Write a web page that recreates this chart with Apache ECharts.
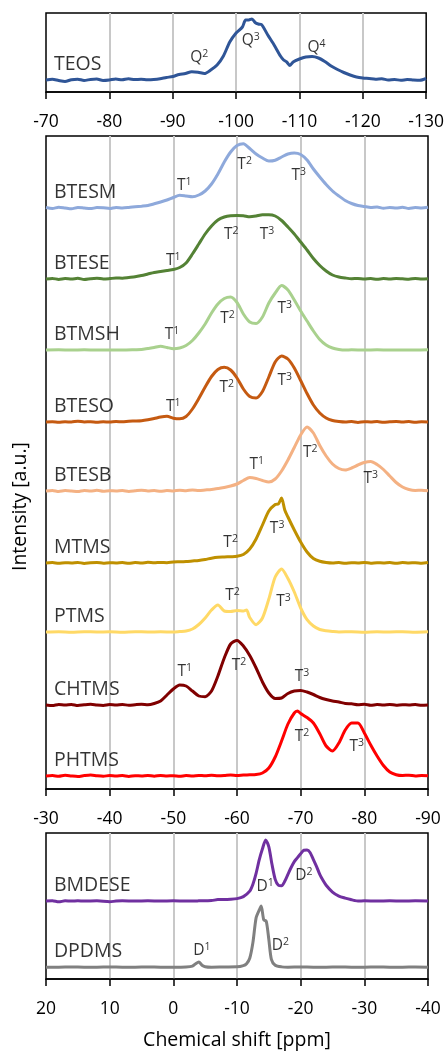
<!DOCTYPE html>
<html><head><meta charset="utf-8">
<script src="https://cdn.jsdelivr.net/npm/echarts@6/dist/echarts.min.js"></script>
<style>html,body{margin:0;padding:0;background:#fff}#c{width:447px;height:1051px}</style>
</head><body><div id="c"></div>
<script>
// ---- DATA: [chemical shift ppm, relative intensity] ----
const teos = [[-70,0],[-71,0.8],[-72,-0.5],[-73,-1.5],[-74,0.3],[-75,0.8],[-76,-0.4],[-77,0.5],[-78,1],[-79,-0.5],[-80,0],[-81,1],[-82,0.2],[-83,1.2],[-84,0.4],[-85,0.8],[-86,0.3],[-87,0.5],[-88,1.2],[-89,2.5],[-90,3.5],[-91,5.5],[-92,6.5],[-93,8.3],[-94,7.8],[-95,6.5],[-96,10],[-97,15],[-98,24],[-99,38],[-100,47],[-101,53],[-101.5,60],[-102,60],[-102.5,61],[-103,57.5],[-103.5,56],[-104,55.5],[-105,45],[-106,35],[-107,24],[-107.5,20],[-108,18],[-108.5,14.5],[-109,18],[-110,21],[-111,23],[-112,23.5],[-113,22],[-114,18.5],[-115,14],[-116,10.5],[-117,7.5],[-118,5],[-119,3],[-120,2],[-121,1.5],[-122,0.8],[-123,1.2],[-124,0],[-125,0.6],[-126,-0.3],[-127,0.5],[-128,0],[-129,-0.3],[-130,1.5]];
const btesm = [[-30,0.5],[-31,-0.5],[-32,0.8],[-33,0],[-34,-0.8],[-35,0.6],[-36,0],[-37,-0.6],[-38,0.4],[-39,0.2],[-40,-0.5],[-41,0.6],[-42,0],[-43,0.5],[-44,1.2],[-45,1.8],[-46,2.5],[-47,4.2],[-48,6],[-49,8],[-50,10.5],[-51,12.7],[-52,12],[-53,11.2],[-54,13],[-55,17],[-56,24],[-57,34],[-58,46],[-59,56],[-60,62.5],[-61,64.3],[-62,59.5],[-63,54],[-64,50],[-65,47],[-66,47.8],[-67,51],[-68,54],[-69,55],[-70,53.5],[-71,48],[-72,39],[-73,31],[-74,23.5],[-75,17],[-76,12],[-77,7.5],[-78,4.5],[-79,2.5],[-80,1.5],[-81,0.5],[-82,1],[-83,-0.3],[-84,0.6],[-85,0],[-86,0.7],[-87,-0.4],[-88,0.5],[-89,0],[-90,0.8]];
const btese = [[-30,0],[-31,0.6],[-32,-0.4],[-33,0.5],[-34,0],[-35,0.7],[-36,-0.5],[-37,0.3],[-38,0.8],[-39,0],[-40,0.4],[-41,1],[-42,0.8],[-43,1.5],[-44,2.2],[-45,3.5],[-46,5],[-47,6.5],[-48,7.5],[-49,8.5],[-50,9.5],[-51,11.5],[-52,16],[-53,25],[-54,35],[-55,45],[-56,53],[-57,59],[-58,62],[-59,63.3],[-60,63.5],[-61,63.3],[-62,62.2],[-63,63],[-64,64.3],[-65,64.3],[-66,63],[-67,58.5],[-68,52],[-69,45],[-70,37],[-71,29],[-72,20.5],[-73,13.5],[-74,8],[-75,4],[-76,2],[-77,1],[-78,0.3],[-79,0.6],[-80,0],[-81,0.5],[-82,-0.3],[-83,0.4],[-84,0],[-85,0.6],[-86,0.2],[-87,-0.2],[-88,0.5],[-89,0],[-90,0.3]];
const btmsh = [[-30,0],[-32,0.2],[-34,0],[-36,0.2],[-38,0],[-40,0.1],[-42,0],[-44,0.3],[-45,0.5],[-46,1.5],[-47,2.5],[-48,3.7],[-49,2.5],[-50,1.3],[-51,2],[-52,4.5],[-53,9.5],[-54,17],[-55,26],[-56,37],[-57,46],[-58,51.5],[-59,53],[-60,47.5],[-61,36],[-62,28],[-63,26.5],[-64,33],[-65,47],[-66,57],[-67,64.5],[-68,60],[-69,50],[-70,39],[-71,29],[-72,19],[-73,10.5],[-74,5],[-75,2],[-76,0.6],[-77,0],[-78,0.2],[-80,0],[-82,0.2],[-84,0],[-86,0.1],[-88,0],[-90,0.2]];
const bteso = [[-30,0],[-31,0.3],[-32,-0.3],[-33,0.2],[-34,0],[-35,0.8],[-36,0],[-37,0.3],[-38,-0.3],[-39,0.2],[-40,0],[-41,0.4],[-42,0.2],[-43,0.8],[-44,1],[-45,1.3],[-46,2.2],[-47,3.5],[-48,5],[-49,5.7],[-50,3.8],[-51,3.2],[-52,5.5],[-53,13],[-54,23.5],[-55,35],[-56,45.5],[-57,52.5],[-58,54.7],[-59,52],[-60,44],[-61,33],[-62,25.5],[-63,24],[-64,30.5],[-65,45],[-66,60],[-67,66],[-68,63],[-69,54],[-70,41.5],[-71,28.5],[-72,17],[-73,9],[-74,4],[-75,1.5],[-76,0.5],[-77,0],[-78,0.4],[-79,-0.4],[-80,0.3],[-81,0],[-82,0.5],[-83,-0.3],[-84,0.2],[-85,0.6],[-86,0],[-87,0.4],[-88,-0.2],[-89,0.3],[-90,0]];
const btesb = [[-30,0],[-31,0.6],[-32,-0.5],[-33,0.4],[-34,0],[-35,-0.6],[-36,0.5],[-37,0],[-38,0.7],[-39,-0.3],[-40,0.3],[-41,0],[-42,0.5],[-43,-0.4],[-44,0.2],[-45,0.8],[-46,0],[-47,0.4],[-48,-0.3],[-49,0.5],[-50,0.1],[-51,0.8],[-52,0.3],[-53,1],[-54,0.5],[-55,1],[-56,1.5],[-57,2.5],[-58,3.5],[-59,5],[-60,7],[-61,10.5],[-62,13.5],[-63,12.5],[-64,10.5],[-65,9],[-66,12],[-67,20],[-68,31],[-69,43.5],[-70,56],[-71,64],[-72,58],[-73,45.5],[-74,35],[-75,27],[-76,22.5],[-77,21],[-78,23],[-79,26],[-80,28.5],[-81,29.5],[-82,26.5],[-83,21.5],[-84,15],[-85,8.5],[-86,4],[-87,1.5],[-88,0.5],[-89,0.8],[-90,0.2]];
const mtms = [[-30,0],[-31,0.4],[-32,-0.3],[-33,0.3],[-34,0],[-35,0.6],[-36,-0.4],[-37,0.2],[-38,0.5],[-39,-0.2],[-40,0.3],[-41,0],[-42,0.5],[-43,-0.3],[-44,0.4],[-45,0],[-46,0.7],[-47,0.2],[-48,0.6],[-49,0.3],[-50,1],[-51,1.2],[-52,1.5],[-53,2],[-54,2.5],[-55,3.5],[-56,4.8],[-57,5.7],[-58,6],[-59,6.3],[-60,6.7],[-61,8.5],[-62,14],[-63,24],[-64,38],[-65,52],[-66,58.5],[-66.5,59],[-67,65],[-67.5,53],[-68,46],[-69,33],[-70,21],[-71,11],[-72,4.5],[-73,1.7],[-74,0.5],[-75,0],[-76,0.5],[-77,-0.3],[-78,0.3],[-79,0],[-80,0.6],[-81,-0.2],[-82,0.3],[-83,0],[-84,0.5],[-85,-0.3],[-86,0.4],[-87,0],[-88,0.3],[-89,-0.2],[-90,0.4]];
const ptms = [[-30,0],[-32,0.3],[-34,-0.2],[-36,0.3],[-38,0],[-40,0.2],[-42,-0.2],[-44,0.3],[-46,0],[-48,0.2],[-50,0],[-51,0.5],[-52,1],[-53,3],[-54,7.5],[-55,14],[-56,22],[-57,27],[-58,21],[-59,20.5],[-60,21.5],[-61,21],[-61.5,22],[-62,14.5],[-63,7.3],[-64,14],[-65,33],[-66,55],[-67,63],[-68,53.5],[-69,40],[-70,24],[-71,12.3],[-72,6],[-73,2.5],[-74,1.2],[-75,0.5],[-76,0],[-78,0.3],[-80,-0.2],[-82,0.2],[-84,0],[-86,0.3],[-88,-0.2],[-90,0.2]];
const chtms = [[-30,0],[-31,-0.6],[-32,0.5],[-33,0],[-34,0.6],[-35,-0.5],[-36,0.2],[-37,0.7],[-38,0],[-39,-0.4],[-40,0.5],[-41,0],[-42,0.6],[-43,-0.3],[-44,0.3],[-45,0.8],[-46,0.2],[-47,1.5],[-48,4],[-49,10],[-50,16],[-51,20],[-52,19],[-53,14],[-54,9],[-55,8.3],[-56,14],[-57,29],[-58,47],[-59,61],[-60,64.6],[-61,59],[-62,49.5],[-63,37],[-64,23],[-65,12],[-66,6.5],[-67,7],[-68,11.5],[-69,14],[-70,14.6],[-71,13],[-72,10.5],[-73,7.5],[-74,5.5],[-75,4],[-76,3],[-77,1.5],[-78,1.2],[-79,0.3],[-80,0.7],[-81,-0.3],[-82,0.5],[-83,0],[-84,0.6],[-85,-0.2],[-86,0.3],[-87,0],[-88,0.5],[-89,-0.3],[-90,0]];
const phtms = [[-30,0],[-31,0.5],[-32,-0.3],[-33,0.7],[-34,0],[-35,-0.5],[-36,0.4],[-37,1],[-38,0.2],[-39,-0.3],[-40,0.6],[-41,0],[-42,0.4],[-43,-0.4],[-44,0.3],[-45,0],[-46,0.6],[-47,-0.2],[-48,0.5],[-49,0],[-50,0.3],[-51,-0.3],[-52,0.5],[-53,0],[-54,0.6],[-55,0.2],[-56,0.8],[-57,0.3],[-58,0.5],[-59,1],[-60,0.6],[-61,1],[-62,1.2],[-63,1.5],[-64,3],[-65,8],[-66,19],[-67,35],[-68,52],[-69,63],[-69.5,65],[-70,62.5],[-71,58.5],[-72,53],[-73,42.3],[-74,30],[-75,25],[-76,33],[-77,46],[-78,53],[-79,53],[-80,43],[-81,31],[-82,20],[-83,10.5],[-84,4],[-85,1.3],[-86,0.5],[-87,0.8],[-88,0],[-89,0.6],[-90,0.3]];
const bmdese = [[20,0],[19,0.3],[18,-0.8],[17,0.2],[16,0],[15,0.3],[14,0],[12,0.2],[10,-0.7],[9,0],[8,0.2],[6,0],[4,0.2],[2,0],[0,0.2],[-2,0],[-4,0.2],[-6,0.5],[-7,1.5],[-8,1.5],[-9,1.8],[-10,2.5],[-11,4.5],[-12,10],[-12.5,17],[-13,28],[-13.5,42],[-14,53],[-14.5,62],[-15,55],[-15.5,37],[-16,22],[-16.5,16],[-17,15.5],[-17.5,20],[-18,27],[-18.5,34],[-19,40],[-19.5,44],[-20,48],[-20.5,51.5],[-21,51.7],[-21.5,49],[-22,42],[-22.5,35],[-23,27],[-23.5,21],[-24,16],[-25,9],[-26,5],[-27,3],[-28,1.3],[-28.5,0.5],[-29,0],[-30,0.2],[-32,0],[-34,0.2],[-36,0],[-38,0.2],[-40,0]];
const dpdms = [[20,0],[18,0],[16,0.2],[14,0],[12,0],[10,0.2],[8,0],[6,0],[4,0.2],[2,0],[0,0],[-2,0.2],[-3,1],[-3.5,3.5],[-4,5.3],[-4.5,2],[-5,0.5],[-6,0],[-8,0.2],[-10,0.3],[-11,1.5],[-11.5,3.5],[-12,9],[-12.5,25],[-13,50],[-13.5,58],[-13.8,62],[-14.2,48],[-14.6,46.5],[-15,28],[-15.4,8],[-16,2],[-17,0.3],[-18,0],[-20,0.2],[-22,0],[-24,0],[-26,0.2],[-28,0],[-30,0],[-32,0.2],[-34,0],[-36,0],[-38,0.2],[-40,0]];

const topNames = ['TEOS'];
const midNames = ['BTESM','BTESE','BTMSH','BTESO','BTESB','MTMS','PTMS','CHTMS','PHTMS'];
const botNames = ['BMDESE','DPDMS'];
const topData = [teos];
const midData = [btesm, btese, btmsh, bteso, btesb, mtms, ptms, chtms, phtms];
const botData = [bmdese, dpdms];

// peak assignments: [series index, letter, superscript, ppm, height]
const topPeaks = [[0,'Q','2',-94.2,22.5],[0,'Q','3',-102.3,39.2],[0,'Q','4',-112.7,32.5]];
const midPeaks = [
 [0,'T','1',-51.7,22.4],[0,'T','2',-61.2,43.5],[0,'T','3',-69.7,32.7],
 [1,'T','1',-50,18],[1,'T','2',-59.1,44.5],[1,'T','3',-64.7,44.5],
 [2,'T','1',-49.8,15.3],[2,'T','2',-58.5,31],[2,'T','3',-67.5,41.5],
 [3,'T','1',-50,15.6],[3,'T','2',-58.4,34.8],[3,'T','3',-67.5,41.5],
 [4,'T','1',-63.1,26],[4,'T','2',-71.5,38.5],[4,'T','3',-81,12.7],
 [5,'T','2',-59,20],[5,'T','3',-66.3,34],
 [6,'T','2',-59.3,36.3],[6,'T','3',-67.3,30],
 [7,'T','1',-51.8,33.6],[7,'T','2',-60.3,39],[7,'T','3',-70.2,28.6],
 [8,'T','2',-70.2,39.4],[8,'T','3',-78.8,29.9]
];
const botPeaks = [[0,'D','1',-14.4,15],[0,'D','2',-20.5,25.9],[1,'D','1',-4.5,16.8],[1,'D','2',-16.8,21.8]];

// ---- styling / layout ----
const topColors = ['#2F5597'];
const midColors = ['#8EA9DB','#548235','#A9D18E','#C55A11','#F4B183','#BF9000','#FFD966','#800000','#FF0000'];
const botColors = ['#7030A0','#808080'];
const topOffsets = [12];
const midOffsets = [581,510,439,367,298,226,157,84,13];
const botOffsets = [79,12];
const FONT = 'Open Sans';

function xa(gi, min, max, name) {
  return {
    type:'value', gridIndex:gi, min:min, max:max, interval:10, inverse:true,
    axisLine:{show:true, onZero:false, lineStyle:{color:'#000', width:1.5}},
    axisTick:{show:true, inside:false, length:7, lineStyle:{color:'#000', width:1.5}},
    axisLabel:{color:'#000', fontSize:17.5, fontFamily:FONT, margin:21},
    splitLine:{show:true, showMinLine:false, showMaxLine:false, lineStyle:{color:'#C8C8C8', width:2}},
    name:name||'', nameLocation:'middle', nameGap:51,
    nameTextStyle:{color:'#000', fontSize:19.5, fontFamily:FONT}
  };
}
function ya(gi, max) { return {type:'value', gridIndex:gi, min:0, max:max, show:false}; }

const series = [];
function addPanel(gi, names, datas, colors, offsets, peaks, labelPpm) {
  datas.forEach((d, i) => {
    series.push({
      type:'line', xAxisIndex:gi, yAxisIndex:gi, name:names[i],
      data:d.map(p => [p[0], p[1] + offsets[i]]),
      showSymbol:false, symbol:'none', smooth:0.25,
      lineStyle:{color:colors[i], width:3}, z:3
    });
  });
  series.push({
    type:'scatter', xAxisIndex:gi, yAxisIndex:gi, symbolSize:1, silent:true, z:5,
    itemStyle:{color:'rgba(0,0,0,0)'},
    data:names.map((n, i) => ({value:[labelPpm, offsets[i] + 16], name:n})),
    label:{show:true, position:'inside', align:'left', verticalAlign:'middle',
      formatter:p => p.name, color:'#000', fontSize:19.5, fontFamily:FONT}
  });
  series.push({
    type:'scatter', xAxisIndex:gi, yAxisIndex:gi, symbolSize:1, silent:true, z:5,
    itemStyle:{color:'rgba(0,0,0,0)'},
    data:peaks.map(k => ({value:[k[3], offsets[k[0]] + k[4]], base:k[1], sup:k[2]})),
    label:{show:true, position:'inside', align:'center', verticalAlign:'middle',
      formatter:p => '{b|' + p.data.base + '}{s|' + p.data.sup + '}',
      rich:{
        b:{fontSize:15.5, fontFamily:FONT, color:'#000', lineHeight:18},
        s:{fontSize:10.5, fontFamily:FONT, color:'#000', lineHeight:12, verticalAlign:'top'}
      }}
  });
}
addPanel(0, topNames, topData, topColors, topOffsets, topPeaks, -71.25);
addPanel(1, midNames, midData, midColors, midOffsets, midPeaks, -31.25);
addPanel(2, botNames, botData, botColors, botOffsets, botPeaks, 18.75);

const chart = echarts.init(document.getElementById('c'), null, {renderer:'canvas'});
chart.setOption({
  animation:false,
  backgroundColor:'#fff',
  grid:[
    {left:46, right:19, top:13, height:79, show:true, borderColor:'#000', borderWidth:1.5},
    {left:46, right:19, top:136, height:653, show:true, borderColor:'#000', borderWidth:1.5},
    {left:46, right:19, top:833, height:148, show:true, borderColor:'#000', borderWidth:1.5}
  ],
  xAxis:[xa(0,-130,-70), xa(1,-90,-30), xa(2,-40,20,'Chemical shift [ppm]')],
  yAxis:[ya(0,79), ya(1,653), ya(2,148)],
  graphic:[{
    type:'text', left:10, top:442, rotation:Math.PI/2,
    style:{text:'Intensity [a.u.]', fill:'#000', font:'19.5px "Open Sans"'}
  }],
  series:series
});
</script></body></html>
